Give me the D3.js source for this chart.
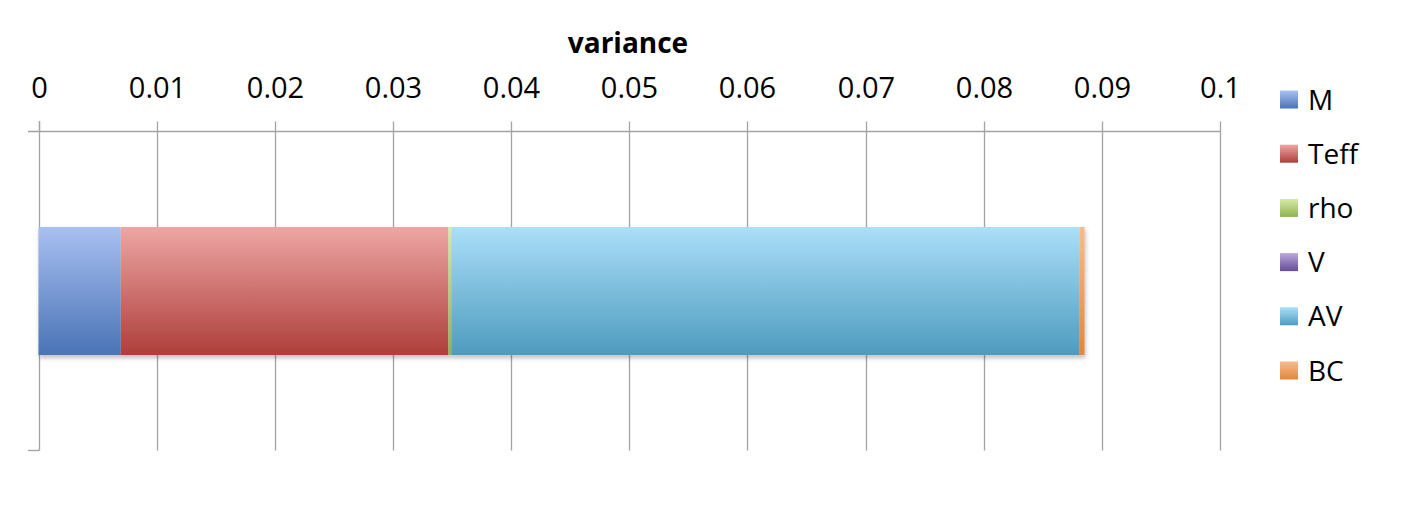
<!DOCTYPE html>
<html>
<head>
<meta charset="utf-8">
<script src="https://cdn.jsdelivr.net/npm/d3@7"></script>
<style>
  html, body { margin: 0; padding: 0; background: #ffffff; }
  svg { display: block; }
  text { font-family: "Open Sans", "Liberation Sans", sans-serif; fill: #000; }
</style>
</head>
<body>
<svg id="chart" width="1409" height="520"></svg>
<script>
// ---- data ----
const categories = ["variance"];
const seriesNames = ["M", "Teff", "rho", "V", "AV", "BC"];
const M    = [0.00696];
const Teff = [0.02773];
const rho  = [0.00026];
const V    = [0.00002];
const AV   = [0.05315];
const BC   = [0.00042];
const tickValues = [0, 0.01, 0.02, 0.03, 0.04, 0.05, 0.06, 0.07, 0.08, 0.09, 0.1];
const tickLabels = ["0", "0.01", "0.02", "0.03", "0.04", "0.05", "0.06", "0.07", "0.08", "0.09", "0.1"];
const axisTitle = "variance";

// ---- styles ----
const colorsTop    = { M: "#a9c0f1", Teff: "#eda6a4", rho: "#d6eca6", V: "#bba8da", AV: "#abdff9", BC: "#f8bc8e" };
const colorsBottom = { M: "#4a74b6", Teff: "#ae3e3a", rho: "#8db252", V: "#674d98", AV: "#4e9bbf", BC: "#e3873b" };

const svg = d3.select("#chart");
const defs = svg.append("defs");

seriesNames.forEach(s => {
  const g = defs.append("linearGradient").attr("id", "grad-" + s)
    .attr("x1", 0).attr("y1", 0).attr("x2", 0).attr("y2", 1);
  g.append("stop").attr("offset", "0%").attr("stop-color", colorsTop[s]);
  g.append("stop").attr("offset", "100%").attr("stop-color", colorsBottom[s]);
});
const f = defs.append("filter").attr("id", "shadow")
  .attr("x", "-5%").attr("y", "-10%").attr("width", "110%").attr("height", "130%");
f.append("feDropShadow").attr("dx", 1).attr("dy", 3).attr("stdDeviation", 2)
  .attr("flood-color", "#000").attr("flood-opacity", 0.25);

const x = d3.scaleLinear().domain([0, 0.1]).range([38.5, 1220]);
const y = d3.scaleBand().domain(categories).range([131.5, 450.5]).padding(0.427);

const gridColor = "#a3a3a3";

// gridlines
svg.append("g").selectAll("line").data(tickValues.slice(1)).join("line")
  .attr("x1", d => Math.round(x(d)) + 0.5).attr("x2", d => Math.round(x(d)) + 0.5)
  .attr("y1", 131.5).attr("y2", 450.5)
  .attr("stroke", gridColor).attr("stroke-width", 1.3);

// top axis
const axis = d3.axisTop(x).tickValues(tickValues)
  .tickFormat((d, i) => tickLabels[i])
  .tickSizeInner(10).tickSizeOuter(0).tickPadding(24);
const ga = svg.append("g").attr("transform", "translate(0,131.5)").call(axis);
ga.select(".domain").remove();
ga.selectAll(".tick line").attr("stroke", gridColor).attr("stroke-width", 1.3)
  .attr("transform", function() {
    return null;
  });
ga.selectAll(".tick").attr("transform", d => `translate(${Math.round(x(d)) + 0.5},0)`);
ga.selectAll(".tick text")
  .style("font-family", "'Open Sans', 'Liberation Sans', sans-serif")
  .style("font-size", "29px").attr("fill", "#000");

// axis line (top) and left category axis
svg.append("line").attr("x1", 28).attr("x2", Math.round(x(0.1)) + 0.5)
  .attr("y1", 131.5).attr("y2", 131.5).attr("stroke", gridColor).attr("stroke-width", 1.3);
svg.append("line").attr("x1", Math.round(x(0)) + 0.5).attr("x2", Math.round(x(0)) + 0.5)
  .attr("y1", 121).attr("y2", 450.5).attr("stroke", gridColor).attr("stroke-width", 1.3);
svg.append("line").attr("x1", 28).attr("x2", Math.round(x(0)) + 0.5)
  .attr("y1", 450.5).attr("y2", 450.5).attr("stroke", gridColor).attr("stroke-width", 1.3);

// stacked bars
const table = categories.map((c, i) => ({
  cat: c, M: M[i], Teff: Teff[i], rho: rho[i], V: V[i], AV: AV[i], BC: BC[i]
}));
const stacked = d3.stack().keys(seriesNames)(table);

const bars = svg.append("g").attr("filter", "url(#shadow)");
stacked.forEach(layer => {
  bars.selectAll(null).data(layer).join("rect")
    .attr("x", d => x(d[0]))
    .attr("width", d => Math.max(0, x(d[1]) - x(d[0])))
    .attr("y", d => y(d.data.cat))
    .attr("height", y.bandwidth())
    .attr("fill", `url(#grad-${layer.key})`);
});

// title
svg.append("text").attr("x", 628).attr("y", 53).attr("text-anchor", "middle")
  .style("font-size", "28px").style("font-weight", "bold").text(axisTitle);

// legend
const legend = svg.append("g");
seriesNames.forEach((s, i) => {
  const cy = 99.5 + i * 54.2;
  legend.append("rect").attr("x", 1280).attr("y", cy - 9).attr("width", 18).attr("height", 18)
    .attr("fill", `url(#grad-${s})`);
  legend.append("text").attr("x", 1308).attr("y", cy + 10)
    .style("font-size", "28px").text(s);
});
</script>
</body>
</html>
